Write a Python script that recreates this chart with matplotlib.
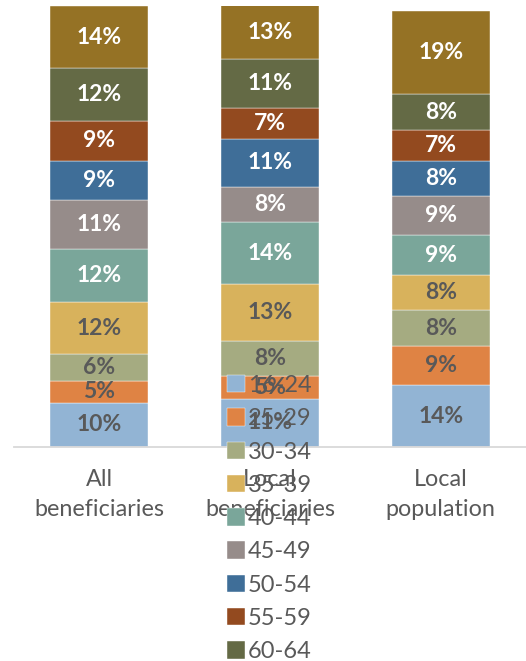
import numpy as np
import matplotlib as mpl
mpl.use("Agg")
import matplotlib.pyplot as plt

plt.rcParams['font.family'] = ['Lato', 'DejaVu Sans']
plt.rcParams['figure.facecolor'] = 'w'
plt.rcParams['savefig.dpi'] = 100

groups = ['All\nbeneficiaries', 'Local\nbeneficiaries', 'Local\npopulation']
age_bands = ['16-24', '25-29', '30-34', '35-39', '40-44',
             '45-49', '50-54', '55-59', '60-64', '65+']

# share of each age band (%), per group
all_beneficiaries = [10, 5, 6, 12, 12, 11, 9, 9, 12, 14]
local_beneficiaries = [11, 5, 8, 13, 14, 8, 11, 7, 11, 13]
local_population = [14, 9, 8, 8, 9, 9, 8, 7, 8, 19]

band_colors = ['#92B4D4', '#DF8344', '#A5AB81', '#D8B25C', '#7AA69A',
               '#968C8A', '#3F6E98', '#934A1F', '#646A45', '#957225']

grey = '#595959'

shares = np.array([all_beneficiaries, local_beneficiaries, local_population]).T
x = np.arange(len(groups))

fig = plt.figure(figsize=(5.26, 6.61), dpi=100)
ax = fig.add_axes([14 / 526, 1 - 447 / 661, 1 - 14 / 526, (447 - 6.3) / 661])

bottom = np.zeros(len(groups))
for i, band in enumerate(age_bands):
    bars = ax.bar(x, shares[i], width=0.573, bottom=bottom,
                  color=band_colors[i], edgecolor='white', linewidth=0.3,
                  label=band)
    txt_color = grey if i < 4 else 'white'
    ax.bar_label(bars, labels=['%d%%' % v for v in shares[i]],
                 label_type='center', color=txt_color,
                 fontsize=16.5, fontweight='bold')
    bottom += shares[i]

ax.set_xlim(-0.5, 2.5)
ax.set_ylim(0, 100)
ax.set_xticks(x)
ax.set_xticklabels(groups, fontsize=16.8, color=grey, linespacing=1.5)
ax.tick_params(axis='x', length=0, pad=16)
ax.set_yticks([])
for side in ['top', 'left', 'right']:
    ax.spines[side].set_visible(False)
ax.spines['bottom'].set_color('#D9D9D9')
ax.spines['bottom'].set_linewidth(1.3)

# legend sits over the middle bar, last entry runs off the canvas
leg = fig.legend(loc='upper left', bbox_to_anchor=(227 / 526, 1 - 375 / 661),
                 frameon=False, fontsize=17, borderpad=0, borderaxespad=0,
                 handlelength=0.76, handleheight=0.76, handletextpad=0.12,
                 labelspacing=0.52)
for t in leg.get_texts():
    t.set_color(grey)

plt.savefig('out.png', dpi=100)
